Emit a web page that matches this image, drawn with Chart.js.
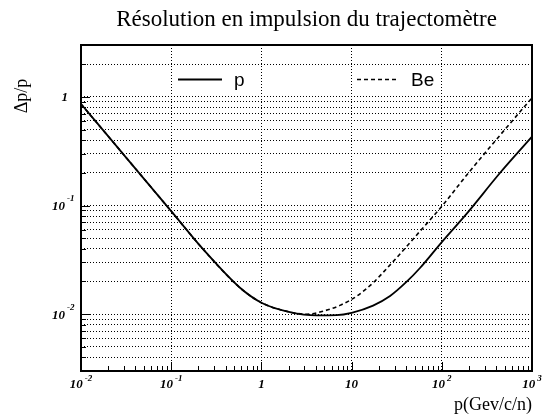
<!DOCTYPE html>
<html lang="fr">
<head>
<meta charset="UTF-8">
<title>Résolution en impulsion du trajectomètre</title>
<script src="https://cdn.jsdelivr.net/npm/chart.js"></script>
<style>
    body { margin: 0; background: #fff; }
    #chart { display: block; }
</style>
</head>
<body>
<canvas id="chart" width="543" height="416"></canvas>
<script>
// momentum p (GeV/c/n) and resolution dp/p
const pMomentum    = [0.01, 0.0294, 0.1, 0.227, 0.579, 1, 2.07, 4.1, 6.8, 10, 17.3, 26.7, 40.8, 57.3, 100, 189, 441, 1000];
const pResolution  = [0.86, 0.297, 0.0887, 0.0394, 0.0175, 0.01276, 0.01045, 0.00975, 0.0098, 0.0103, 0.0120, 0.0147, 0.0199, 0.0266, 0.0461, 0.0842, 0.199, 0.43];
const beMomentum   = [0.01, 0.0294, 0.1, 0.227, 0.579, 1, 2.07, 3.18, 4.85, 7.43, 11.4, 17.4, 24.5, 34.4, 57.3, 100, 197, 441, 1000];
const beResolution = [0.86, 0.297, 0.0887, 0.0394, 0.0175, 0.01276, 0.01045, 0.0100, 0.01067, 0.01205, 0.01466, 0.0195, 0.0263, 0.0358, 0.058, 0.0983, 0.199, 0.442, 0.98];
const seriesNames  = ["p", "Be"];
const xRange = [0.01, 1000];
const yRange = [0.003, 3];

const serif = '"Liberation Serif", "Times New Roman", serif';

function isDecade(v) {
    const l = Math.log10(v);
    return Math.abs(l - Math.round(l)) < 1e-6;
}
// keep 1..9 x 10^n, drop the 1.5 x 10^n ticks chart.js adds
function isWholeStep(v) {
    const e = Math.floor(Math.log10(v) + 1e-9);
    const s = v / Math.pow(10, e);
    return Math.abs(s - Math.round(s)) < 1e-6;
}
function toPoints(xs, ys) {
    return xs.map((x, i) => ({ x: x, y: ys[i] }));
}

// ROOT-like frame: inward ticks, 10^n labels, y title, legend
const frame = {
    id: "frame",
    afterDraw(chart) {
        const { ctx, chartArea: a } = chart;
        const xs = chart.scales.x, ys = chart.scales.y;
        ctx.save();
        ctx.strokeStyle = "#000";
        ctx.fillStyle = "#000";
        ctx.lineWidth = 1;
        ctx.beginPath();
        xs.ticks.forEach(t => {
            if (!isWholeStep(t.value)) return;
            const px = Math.round(xs.getPixelForValue(t.value)) + 0.5;
            const len = isDecade(t.value) ? 9 : 5;
            ctx.moveTo(px, a.bottom);
            ctx.lineTo(px, a.bottom - len);
        });
        ys.ticks.forEach(t => {
            if (!isWholeStep(t.value)) return;
            const py = Math.round(ys.getPixelForValue(t.value)) + 0.5;
            const len = isDecade(t.value) ? 9 : 5;
            ctx.moveTo(a.left, py);
            ctx.lineTo(a.left + len, py);
        });
        ctx.stroke();
        ctx.lineWidth = 2;
        ctx.strokeRect(a.left, a.top, a.right - a.left, a.bottom - a.top);

        // tick labels
        const baseFont = "bold italic 13px " + serif;
        const expFont = "bold italic 9px " + serif;
        function parts(v) {
            const e = Math.round(Math.log10(v));
            if (e === 0) return ["1", ""];
            if (e === 1) return ["10", ""];
            return ["10", String(e)];
        }
        ctx.textBaseline = "middle";
        xs.ticks.forEach(t => {
            if (!isDecade(t.value)) return;
            const [b, e] = parts(t.value);
            const px = xs.getPixelForValue(t.value);
            ctx.font = baseFont;
            const wb = ctx.measureText(b).width;
            ctx.font = expFont;
            const we = e ? ctx.measureText(e).width + 2 : 0;
            const left = px - (wb + we) / 2;
            ctx.textAlign = "left";
            ctx.font = baseFont;
            ctx.fillText(b, left, a.bottom + 14);
            if (e) {
                ctx.font = expFont;
                ctx.fillText(e, left + wb + 2, a.bottom + 8);
            }
        });
        ys.ticks.forEach(t => {
            if (!isDecade(t.value)) return;
            const [b, e] = parts(t.value);
            const py = ys.getPixelForValue(t.value);
            ctx.font = baseFont;
            ctx.textAlign = "right";
            if (e) {
                ctx.fillText(b, a.left - 16, py + 1);
                ctx.font = expFont;
                ctx.textAlign = "left";
                ctx.fillText(e, a.left - 14, py - 7);
            } else {
                ctx.fillText(b, a.left - 13, py + 1);
            }
        });

        // y axis title
        ctx.save();
        ctx.translate(22, 96);
        ctx.rotate(-Math.PI / 2);
        ctx.textAlign = "center";
        ctx.font = "18px " + serif;
        ctx.fillText("\u0394p/p", 0, 0);
        ctx.restore();

        // legend inside the frame
        const spots = [{ x1: 178, x2: 222, tx: 234 }, { x1: 357, x2: 397, tx: 411 }];
        const ly = 79.5;
        chart.data.datasets.forEach((ds, i) => {
            const s = spots[i];
            ctx.beginPath();
            ctx.lineWidth = ds.borderWidth;
            ctx.setLineDash(ds.borderDash || []);
            ctx.moveTo(s.x1, ly);
            ctx.lineTo(s.x2, ly);
            ctx.stroke();
            ctx.setLineDash([]);
            ctx.font = '19px "Liberation Sans", Arial, sans-serif';
            ctx.textAlign = "left";
            ctx.fillText(ds.label, s.tx, ly + 1);
        });
        ctx.restore();
    }
};

const gridDotted = { dash: [1, 2], display: false };

new Chart(document.getElementById("chart"), {
    type: "line",
    data: {
        datasets: [
            {
                label: seriesNames[0],
                data: toPoints(pMomentum, pResolution),
                borderColor: "#000",
                borderWidth: 1.8,
                pointRadius: 0,
                fill: false,
                cubicInterpolationMode: "monotone"
            },
            {
                label: seriesNames[1],
                data: toPoints(beMomentum, beResolution),
                borderColor: "#000",
                borderWidth: 1.6,
                borderDash: [4, 3],
                pointRadius: 0,
                fill: false,
                cubicInterpolationMode: "monotone"
            }
        ]
    },
    options: {
        responsive: false,
        animation: false,
        layout: { padding: { left: 0, right: 11, top: 0, bottom: 0 } },
        plugins: {
            legend: { display: false },
            tooltip: { enabled: false },
            title: {
                display: true,
                text: "Résolution en impulsion du trajectomètre",
                fullSize: false,
                color: "#000",
                font: { family: serif, size: 23, weight: "normal" },
                padding: { top: 6, bottom: 11.4 }
            }
        },
        scales: {
            x: {
                type: "logarithmic",
                min: xRange[0],
                max: xRange[1],
                afterFit: s => { s.height = 45; },
                ticks: { display: false, autoSkip: false },
                grid: {
                    drawTicks: false,
                    lineWidth: 1,
                    color: c => (c.tick && isDecade(c.tick.value)) ? "#000" : "rgba(0,0,0,0)"
                },
                border: gridDotted,
                title: {
                    display: true,
                    text: "p(Gev/c/n)",
                    align: "end",
                    color: "#000",
                    font: { family: serif, size: 18 },
                    padding: { top: 4, bottom: 0 }
                }
            },
            y: {
                type: "logarithmic",
                min: yRange[0],
                max: yRange[1],
                afterFit: s => { s.width = 81; },
                ticks: { display: false, autoSkip: false },
                grid: {
                    drawTicks: false,
                    lineWidth: 1,
                    color: c => (c.tick && isWholeStep(c.tick.value)) ? "#000" : "rgba(0,0,0,0)"
                },
                border: gridDotted
            }
        }
    },
    plugins: [frame]
});
</script>
</body>
</html>
